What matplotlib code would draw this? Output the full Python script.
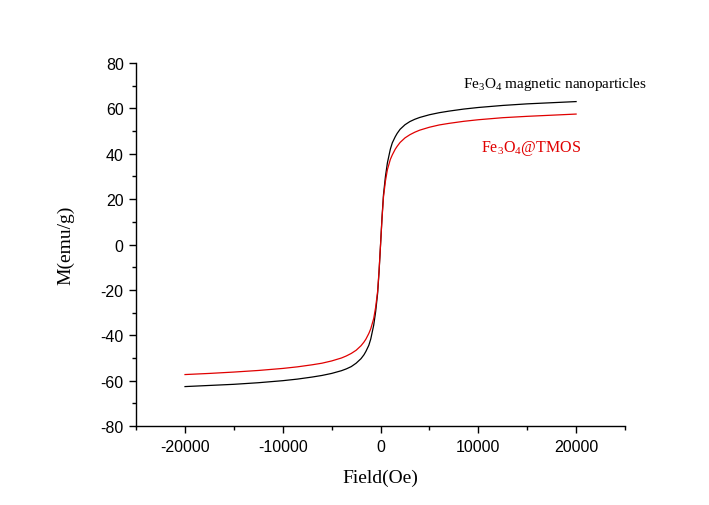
import matplotlib.pyplot as plt
from matplotlib.ticker import MultipleLocator

# 磁滞回线数据
field = [-20000, -17500, -15000, -12500, -10000, -8500, -7000, -6000, -5000,
         -4000, -3500, -3000, -2500, -2000, -1700, -1500, -1200, -1000, -700,
         -500, -300, -150, 0, 150, 300, 500, 700, 1000, 1200, 1500, 1700,
         2000, 2500, 3000, 3500, 4000, 5000, 6000, 7000, 8500, 10000, 12500,
         15000, 17500, 20000]
m_fe3o4 = [-62.6, -62.1, -61.6, -60.9, -60.0, -59.3, -58.4, -57.7, -56.8,
           -55.6, -54.8, -53.8, -52.3, -50.3, -48.6, -47.1, -44.4, -41.6, -35.5,
           -29.5, -21.5, -11.8, 0, 12, 22, 30, 36, 42, 44.8, 47.5, 49,
           50.8, 52.8, 54.2, 55.2, 56, 57.2, 58.1, 58.8, 59.7, 60.4, 61.3,
           62, 62.5, 63]
m_tmos = [-57.3, -56.8, -56.2, -55.5, -54.6, -53.9, -53.0, -52.3, -51.3,
          -50.0, -49.1, -48.0, -46.6, -44.6, -43.0, -41.7, -39.2, -37.1, -32.6,
          -27.6, -20.6, -11.3, 0, 11.5, 21, 28, 33, 37.5, 39.5, 42, 43.3,
          45, 47, 48.4, 49.5, 50.4, 51.7, 52.7, 53.4, 54.3, 55, 55.9,
          56.5, 57, 57.5]

label_fe3o4 = r'Fe$_3$O$_4$ magnetic nanoparticles'
label_tmos = r'Fe$_3$O$_4$@TMOS'

plt.rcParams['axes.unicode_minus'] = False
plt.rcParams['mathtext.fontset'] = 'custom'
plt.rcParams['mathtext.rm'] = 'Liberation Serif'
plt.rcParams['mathtext.it'] = 'Liberation Serif:italic'

fig = plt.figure(figsize=(7.09, 5.06), dpi=100)
ax = fig.add_axes([0.192, 0.156, 0.6895, 0.7175])

ax.plot(field, m_fe3o4, color='black', lw=0.9)
ax.plot(field, m_tmos, color='#e00000', lw=0.9)

ax.set_xlim(-25000, 25000)
ax.set_ylim(-80, 80)
ax.xaxis.set_major_locator(MultipleLocator(10000))
ax.xaxis.set_minor_locator(MultipleLocator(5000))
ax.yaxis.set_major_locator(MultipleLocator(20))
ax.yaxis.set_minor_locator(MultipleLocator(10))

#只保留左边和下边的轴
ax.spines['top'].set_visible(False)
ax.spines['right'].set_visible(False)
for s in ['left', 'bottom']:
    ax.spines[s].set_linewidth(1.0)

ax.tick_params(which='major', direction='out', length=5, width=1.0,
               labelsize=11.5, pad=4)
ax.tick_params(which='minor', direction='out', length=3, width=1.0)
for lab in ax.get_xticklabels() + ax.get_yticklabels():
    lab.set_family('Liberation Sans')

ax.set_xlabel('Field(Oe)', family='Liberation Serif', fontsize=14)
ax.set_ylabel('M(emu/g)', family='Liberation Serif', fontsize=14)
ax.xaxis.set_label_coords(0.5, -0.14)
ax.yaxis.set_label_coords(-0.145, 0.5)
ax.xaxis.label.set_va('center')
ax.yaxis.label.set_va('center')

ax.text(8400, 69.4, label_fe3o4, family='Liberation Serif', fontsize=11,
        color='black', va='baseline')
ax.text(10260, 41.2, label_tmos, family='Liberation Serif', fontsize=11.5,
        color='#e00000', va='baseline')

plt.savefig('out.png', dpi=100)
